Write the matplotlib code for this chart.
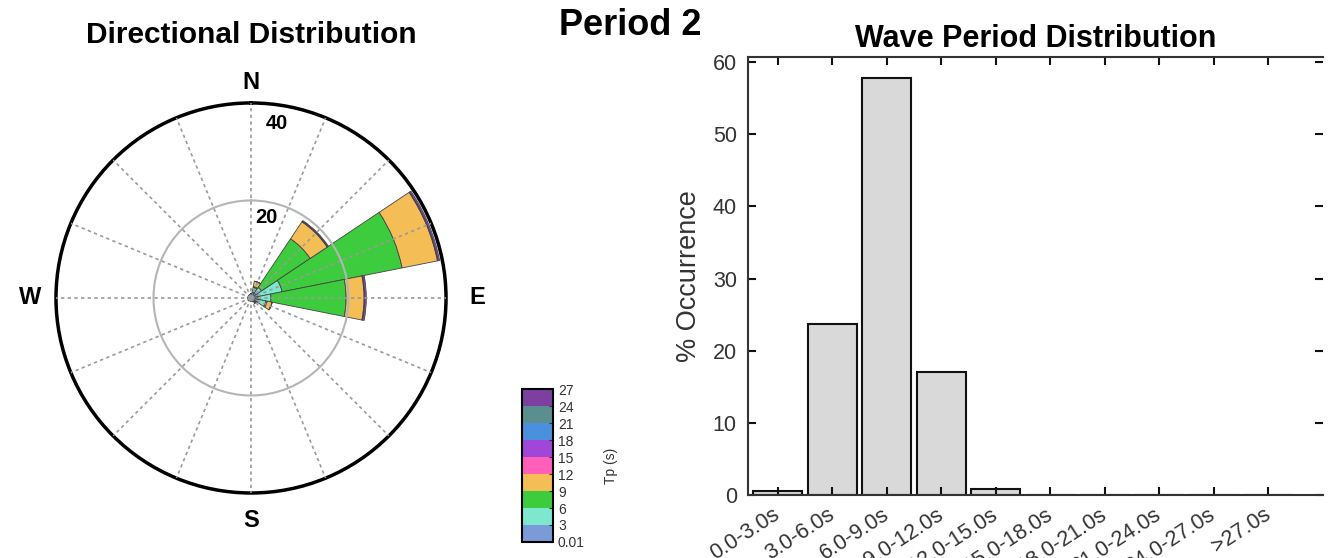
import numpy as np
import matplotlib.pyplot as plt
from matplotlib.colors import ListedColormap, BoundaryNorm
import matplotlib as mpl

plt.rcParams['font.family'] = ['Liberation Sans', 'DejaVu Sans']

# directional data: compass direction (deg) and % per Tp class
directions = [0, 22.5, 45, 67.5, 90, 112.5, 135, 157.5,
              180, 202.5, 225, 247.5, 270, 292.5, 315, 337.5]
tp_00_03 = [0.8, 1.2, 1.2, 1.5, 1.4, 1.5, 1.0, 0.7, 0.6, 0.6, 0.7, 0.6, 0.6, 0.6, 0.6, 0.7]
tp_03_06 = [0.0, 1.0, 1.4, 5.0, 2.7, 1.6, 0.3, 0.0, 0.0, 0.0, 0.0, 0.0, 0.0, 0.0, 0.0, 0.0]
tp_06_09 = [0.0, 0.2, 12.0, 25.1, 15.4, 0.3, 0.0, 0.0, 0.0, 0.0, 0.0, 0.0, 0.0, 0.0, 0.0, 0.0]
tp_09_12 = [0.0, 1.1, 4.2, 7.4, 3.7, 1.0, 0.0, 0.0, 0.0, 0.0, 0.0, 0.0, 0.0, 0.0, 0.0, 0.0]
tp_12_15 = [0.0, 0.0, 0.1, 0.15, 0.15, 0.0, 0.0, 0.0, 0.0, 0.0, 0.0, 0.0, 0.0, 0.0, 0.0, 0.0]
tp_15_18 = [0.0, 0.0, 0.2, 0.3, 0.3, 0.0, 0.0, 0.0, 0.0, 0.0, 0.0, 0.0, 0.0, 0.0, 0.0, 0.0]
tp_classes = [tp_00_03, tp_03_06, tp_06_09, tp_09_12, tp_12_15, tp_15_18]

tp_bounds = [0.01, 3, 6, 9, 12, 15, 18, 21, 24, 27]
tp_colors = ['#7b9bd8', '#7ee8cf', '#3dcc3d', '#f5bd55', '#ff5fb8',
             '#a046d8', '#4a90dc', '#5b8f8f', '#7d40a0']

# period distribution
period_labels = ['0.0-3.0s', '3.0-6.0s', '6.0-9.0s', '9.0-12.0s', '12.0-15.0s',
                 '15.0-18.0s', '18.0-21.0s', '21.0-24.0s', '24.0-27.0s', '>27.0s']
period_pct = [0.5, 23.7, 57.8, 17.0, 0.9, 0, 0, 0, 0, 0]

fig = plt.figure(figsize=(13.33, 5.58), dpi=100)

# ---- rose ----
ax = fig.add_axes([0.042, 0.1165, 0.2926, 0.699], projection='polar')
ax.set_theta_zero_location('N')
ax.set_theta_direction(-1)
theta = np.deg2rad(directions)
width = np.deg2rad(22.5)
bottom = np.zeros(len(directions))
for vals, col in zip(tp_classes, tp_colors):
    vals = np.array(vals)
    ax.bar(theta, vals, width=width, bottom=bottom, color=col,
           edgecolor='#444444', linewidth=0.6, zorder=2)
    bottom += vals
ax.set_ylim(0, 40)
ax.set_xticks(np.deg2rad(np.arange(0, 360, 22.5)))
ax.set_yticks([20])
ax.set_xticklabels([])
ax.set_yticklabels([])
ax.xaxis.grid(True, color='#9a9a9a', linestyle=(0, (2, 2)), linewidth=1.2)
ax.yaxis.grid(True, color='#b5b5b5', linestyle='-', linewidth=1.5)
ax.set_axisbelow(False)
ax.spines['polar'].set_linewidth(2.5)
ax.spines['polar'].set_color('black')
ax.set_title('Directional Distribution', fontsize=21.5, fontweight='bold', pad=43)
for lab, ang, r in zip(['N', 'E', 'S', 'W'], [0, 90, 180, 270], [44.2, 46.4, 45.6, 45.4]):
    ax.text(np.deg2rad(ang), r, lab, ha='center', va='center',
            fontsize=17, fontweight='bold')
ax.text(np.deg2rad(8.5), 36.2, '40', ha='center', va='center', fontsize=14.5, fontweight='bold')
ax.text(np.deg2rad(11), 16.9, '20', ha='center', va='center', fontsize=14.5, fontweight='bold')

# ---- colorbar ----
cax = fig.add_axes([0.3916, 0.0287, 0.0233, 0.274])
cmap = ListedColormap(tp_colors)
norm = BoundaryNorm(tp_bounds, cmap.N)
cb = mpl.colorbar.ColorbarBase(cax, cmap=cmap, norm=norm, spacing='uniform',
                               ticks=tp_bounds)
cb.ax.set_yticklabels(['0.01', '3', '6', '9', '12', '15', '18', '21', '24', '27'])
cb.ax.tick_params(labelsize=10, length=3, direction='in', colors='#333333')
cb.outline.set_linewidth(1.5)
cb.set_label('Tp (s)', fontsize=10, color='#333333', labelpad=14)

# ---- period bars ----
bx = fig.add_axes([0.5611, 0.1129, 0.4314, 0.785])
xpos = np.arange(1, len(period_pct) + 1)
bx.bar(xpos, period_pct, width=0.9, color='#d9d9d9', edgecolor='#111111', linewidth=1.5)
bx.set_xlim(0.45, 11)
bx.set_ylim(0, 60.7)
bx.set_yticks(range(0, 61, 10))
bx.set_xticks(xpos)
bx.set_xticklabels(period_labels, rotation=33, ha='right', va='center',
                   rotation_mode='anchor')
bx.tick_params(axis='both', direction='in', labelsize=15.5, colors='#111111',
               labelcolor='#333333', length=6, width=1.5, top=True, right=True)
bx.tick_params(axis='x', pad=13)
bx.tick_params(axis='y', pad=8)
for s in ['left', 'bottom', 'top']:
    bx.spines[s].set_linewidth(1.5)
    bx.spines[s].set_color('#333333')
bx.spines['right'].set_visible(False)
bx.set_ylabel('% Occurrence', fontsize=19.5, color='#333333', labelpad=8)
bx.set_title('Wave Period Distribution', fontsize=22, fontweight='bold', pad=7)

fig.text(0.4725, 0.955, 'Period 2', fontsize=26, fontweight='bold', ha='center', va='center')

fig.savefig('out.png', dpi=100)
